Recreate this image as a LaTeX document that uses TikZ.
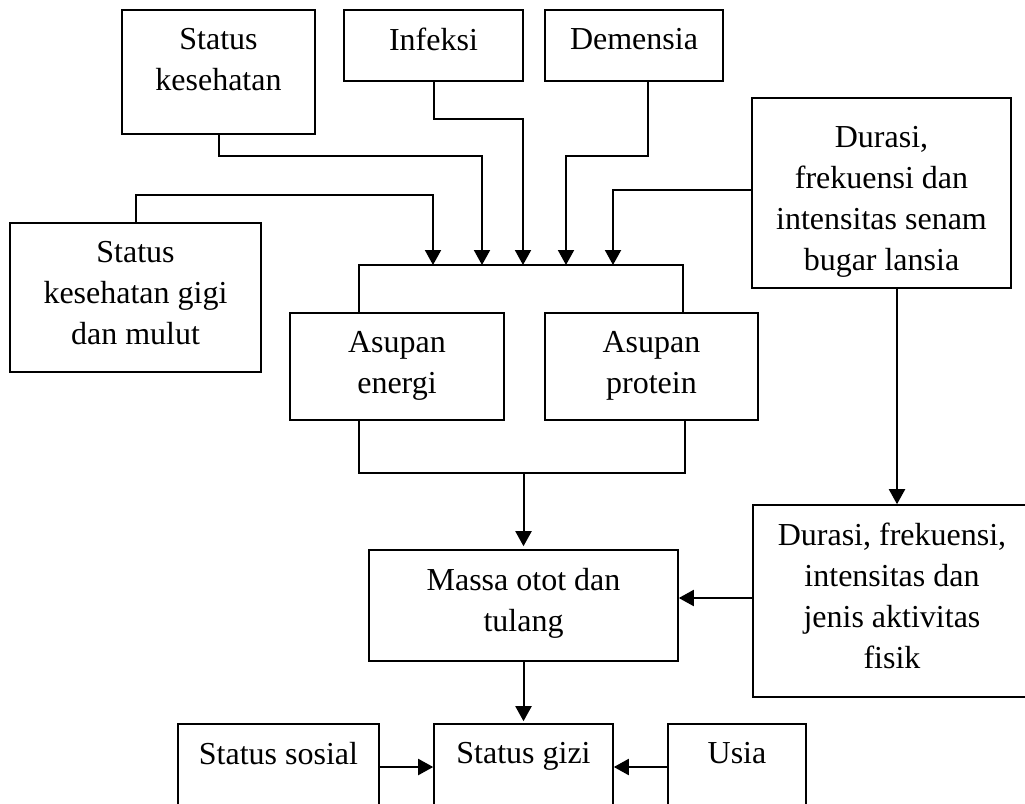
\documentclass[tikz,border=0pt]{standalone}
\usepackage{fontspec}
\setmainfont{Liberation Serif}
\usetikzlibrary{arrows.meta}

\tikzset{
  kotak/.style={draw, rectangle, line width=1.6pt, inner sep=0pt},
  teks/.style={anchor=north, align=center, inner sep=0pt, yshift=-19pt,
    font=\fontsize{32}{41}\selectfont},
  garis/.style={line width=1.6pt},
  panah/.style={line width=2pt, -{Triangle[width=16pt,length=15pt]}},
}

\begin{document}
\begin{tikzpicture}[x=1pt,y=-1pt]
    \useasboundingbox (0,0) rectangle (1025,803);
    \clip (0,0) rectangle (1025,803);

    \node[kotak,minimum width=193pt,minimum height=124pt,label={[teks]north:{Status\\kesehatan}}] (kes) at (218.5,72) {};
    \node[kotak,minimum width=179pt,minimum height=71pt,label={[teks]north:{Infeksi}}] (inf) at (433.5,45.5) {};
    \node[kotak,minimum width=178pt,minimum height=71pt,label={[teks]north:{Demensia}}] (dem) at (634,45.5) {};
    \node[kotak,minimum width=251pt,minimum height=149pt,label={[teks]north:{Status\\kesehatan gigi\\dan mulut}}] (gigi) at (135.5,297.5) {};
    \node[kotak,minimum width=259pt,minimum height=190pt,label={[teks,yshift=-10pt]north:{Durasi,\\frekuensi dan\\intensitas senam\\bugar lansia}}] (senam) at (881.5,193) {};
    \node[kotak,minimum width=214pt,minimum height=107pt,label={[teks]north:{Asupan\\energi}}] (ae) at (397,366.5) {};
    \node[kotak,minimum width=213pt,minimum height=107pt,label={[teks]north:{Asupan\\protein}}] (ap) at (651.5,366.5) {};
    \node[kotak,minimum width=309pt,minimum height=111pt,label={[teks]north:{Massa otot dan\\tulang}}] (massa) at (523.5,605.5) {};
    \node[kotak,minimum width=288pt,minimum height=192pt,label={[teks,xshift=-5pt]north:{Durasi, frekuensi,\\intensitas dan\\jenis aktivitas\\fisik}}] (akt) at (897,601) {};
    \node[kotak,minimum width=201pt,minimum height=86pt,label={[teks]north:{Status sosial}}] (sosial) at (278.5,767) {};
    \node[kotak,minimum width=179pt,minimum height=86pt,label={[teks]north:{Status gizi}}] (gizi) at (523.5,767) {};
    \node[kotak,minimum width=138pt,minimum height=86pt,label={[teks]north:{Usia}}] (usia) at (737,767) {};

    % ujung panah di atas asupan
    \coordinate (t1) at (433,265);
    \coordinate (t2) at (482,265);
    \coordinate (t3) at (523,265);
    \coordinate (t4) at (566,265);
    \coordinate (t5) at (613,265);
    \coordinate (pusat) at (523.5,473);

    \draw[garis] ([xshift=-38pt]ae.north) |- (t1) -- (t5) -| ([xshift=31.5pt]ap.north);
    \draw[garis] ([xshift=-38pt]ae.south) |- (pusat) -| ([xshift=33.5pt]ap.south);

    \draw[panah] (gigi.north) -- ++(0,-27) -| (t1);
    \draw[panah] (kes.south) -- ++(0,21) -| (t2);
    \draw[panah] (inf.south) -- ++(0,37) -| (t3);
    \draw[panah] ([xshift=14pt]dem.south) -- ++(0,74) -| (t4);
    \draw[panah] ([yshift=3pt]senam.west) -| (t5);
    \draw[panah] (senam.south -| akt.north) -- (akt.north);

    \draw[panah] (pusat) -- ([yshift=3pt]massa.north);
    \draw[panah] ([yshift=3pt]akt.west) -- ([yshift=3pt]akt.west -| massa.east);
    \draw[panah] (massa.south) -- ([yshift=2pt]gizi.north);
    \draw[panah] (sosial.east) -- (gizi.west);
    \draw[panah] (usia.west) -- (gizi.east);

\end{tikzpicture}
\end{document}
